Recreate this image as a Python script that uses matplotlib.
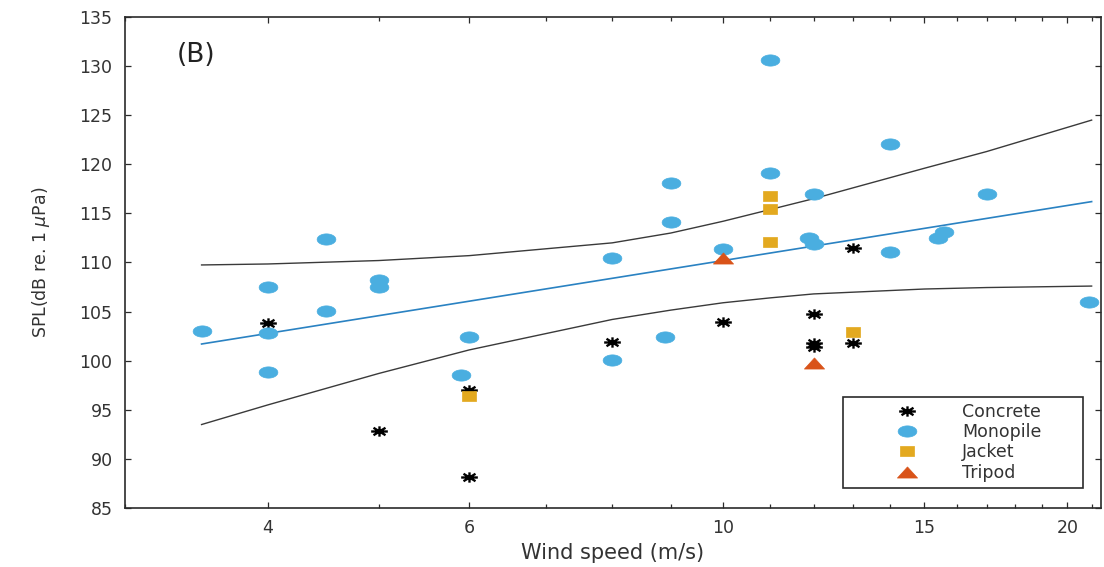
import numpy as np
import matplotlib
matplotlib.use("Agg")
import matplotlib.pyplot as plt
from matplotlib.path import Path
from matplotlib.ticker import FixedLocator, FixedFormatter, NullFormatter

# ---------------- data ----------------
concrete_x = [4, 5, 6, 6, 8, 10, 12, 12, 12, 13, 13]
concrete_y = [103.8, 92.8, 97.0, 88.2, 101.9, 103.9, 104.8, 101.8, 101.4, 101.8, 111.5]

monopile_x = [3.5, 4, 4, 4, 4.5, 4.5, 5, 5, 5.9, 6, 8, 8, 8.9, 9, 9, 10,
              11, 11, 12, 11.9, 12, 14, 14, 15.4, 15.6, 17, 20.9]
monopile_y = [103.0, 107.5, 102.8, 98.9, 105.1, 112.4, 108.2, 107.5, 98.5, 102.4,
              110.5, 100.1, 102.4, 118.1, 114.1, 111.4, 130.6, 119.1, 117.0, 112.5,
              111.9, 122.1, 111.1, 112.5, 113.1, 117.0, 106.0]

jacket_x = [6, 11, 11, 11, 13]
jacket_y = [96.4, 116.8, 115.4, 112.1, 102.9]

tripod_x = [10, 12]
tripod_y = [110.5, 99.8]

fit_x = [3.5, 21.0]
fit_y = [101.7, 116.2]

band_x = [3.5, 4, 5, 6, 8, 9, 10, 11, 12, 15, 17, 21]
band_upper = [109.75, 109.85, 110.2, 110.7, 112.0, 113.0, 114.2, 115.4, 116.5, 119.6, 121.3, 124.5]
band_lower = [93.5, 95.5, 98.7, 101.1, 104.2, 105.15, 105.9, 106.4, 106.8, 107.3, 107.45, 107.6]

xtick_values = [4, 6, 10, 15, 20]
xtick_labels = ["4", "6", "10", "15", "20"]
xminor_values = list(range(3, 22))
ytick_values = list(range(85, 136, 5))

series_labels = ["Concrete", "Monopile", "Jacket", "Tripod"]

# ---------------- marker shapes (horizontally stretched like the reference) ----------------
t = np.linspace(0, 2 * np.pi, 64)
ellipse_marker = Path(np.column_stack([np.cos(t), 0.6 * np.sin(t)]), closed=True)
square_marker = Path([(-1, -0.62), (1, -0.62), (1, 0.62), (-1, 0.62), (-1, -0.62)], closed=True)
triangle_marker = Path([(-1, -0.55), (1, -0.55), (0, 0.55), (-1, -0.55)], closed=True)
d = 0.72
ast_verts = [(-1, 0), (1, 0), (0, -0.62), (0, 0.62),
             (-d, -0.62 * d), (d, 0.62 * d), (-d, 0.62 * d), (d, -0.62 * d)]
ast_codes = [Path.MOVETO, Path.LINETO] * 4
asterisk_marker = Path(ast_verts, ast_codes)

# ---------------- figure ----------------
plt.rcParams["font.family"] = ["DejaVu Sans"]
fig = plt.figure(figsize=(11.04, 5.67), dpi=100)
ax = fig.add_axes([125 / 1104, 59 / 567, 976 / 1104, 491 / 567])

txt_col = "#333333"
ax_col = "#2b2b2b"

ax.plot(band_x, band_upper, color="#3a3a3a", lw=1.0, zorder=2)
ax.plot(band_x, band_lower, color="#3a3a3a", lw=1.0, zorder=2)
ax.plot(fit_x, fit_y, color="#2a82c2", lw=1.2, zorder=2)

ax.plot(concrete_x, concrete_y, ls="none", marker=asterisk_marker, ms=12,
        mfc="none", mec="black", mew=1.7, label=series_labels[0], zorder=3)
ax.plot(monopile_x, monopile_y, ls="none", marker=ellipse_marker, ms=13.5,
        mfc="#4aaee0", mec="#4aaee0", mew=0.5, label=series_labels[1], zorder=3)
ax.plot(jacket_x, jacket_y, ls="none", marker=square_marker, ms=10.5,
        mfc="#e3a91f", mec="#e3a91f", mew=0.5, label=series_labels[2], zorder=4)
ax.plot(tripod_x, tripod_y, ls="none", marker=triangle_marker, ms=14.5,
        mfc="#d95319", mec="#d95319", mew=0.5, label=series_labels[3], zorder=4)

ax.set_xscale("log")
ax.set_xlim(3.0, 21.4)
ax.set_ylim(85, 135)

ax.xaxis.set_major_locator(FixedLocator(xtick_values))
ax.xaxis.set_major_formatter(FixedFormatter(xtick_labels))
ax.xaxis.set_minor_locator(FixedLocator(xminor_values))
ax.xaxis.set_minor_formatter(NullFormatter())
ax.yaxis.set_major_locator(FixedLocator(ytick_values))

ax.tick_params(which="both", direction="in", top=True, right=True,
               color=ax_col, labelcolor=txt_col, labelsize=12.5, width=0.9)
ax.tick_params(which="major", length=4.5)
ax.tick_params(which="minor", length=3)
ax.tick_params(axis="y", pad=9)
ax.tick_params(axis="x", pad=8)

for s in ax.spines.values():
    s.set_color(ax_col)
    s.set_linewidth(1.2)

ax.set_xlabel("Wind speed (m/s)", fontsize=15, color=txt_col, labelpad=4)
ax.set_ylabel(r"SPL(dB re. 1 $\mu$Pa)", fontsize=12.5, color=txt_col, labelpad=20)

ax.text(0.0727, 0.922, "(B)", transform=ax.transAxes, fontsize=19,
        color="#222222", ha="center", va="center")

leg = ax.legend(loc="lower left", mode="expand",
                bbox_to_anchor=(718 / 976, 20 / 491, 240 / 976, 91 / 491),
                borderaxespad=0, fontsize=12.5, numpoints=1,
                handlelength=6.7, handletextpad=-0.2, labelspacing=0.14,
                borderpad=0.35, fancybox=False, framealpha=1,
                edgecolor=ax_col)
leg.get_frame().set_linewidth(1.2)
for txt in leg.get_texts():
    txt.set_color(txt_col)

fig.savefig("out.png", dpi=100)
